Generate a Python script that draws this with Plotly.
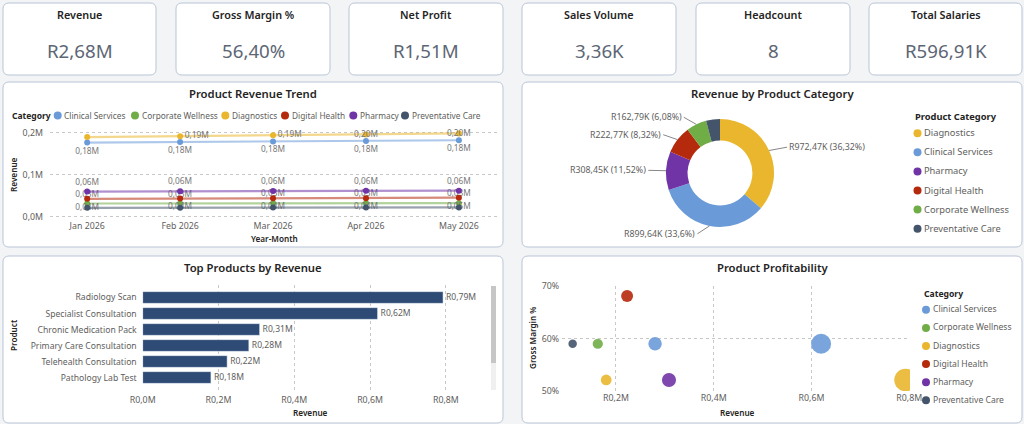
import math
import plotly.graph_objects as go

W, H = 1024, 424
FONT = "Segoe UI, Noto Sans, sans-serif"
TXT = "#252423"
GRAY = "#605e5c"

# ---------------- data ----------------
kpi_titles = ["Revenue", "Gross Margin %", "Net Profit", "Sales Volume", "Headcount", "Total Salaries"]
kpi_values = ["R2,68M", "56,40%", "R1,51M", "3,36K", "8", "R596,91K"]

months = ["Jan 2026", "Feb 2026", "Mar 2026", "Apr 2026", "May 2026"]
categories = ["Clinical Services", "Corporate Wellness", "Diagnostics",
              "Digital Health", "Pharmacy", "Preventative Care"]
rev_clinical = [177200, 178600, 179900, 181200, 182740]
rev_corporate = [32100, 32400, 32600, 32700, 32990]
rev_diagnostics = [190300, 192200, 194600, 196500, 198870]
rev_digital = [43200, 44100, 44600, 44900, 45970]
rev_pharmacy = [60500, 61200, 61800, 62200, 62750]
rev_preventative = [21800, 22100, 22300, 22500, 22680]

products = ["Radiology Scan", "Specialist Consultation", "Chronic Medication Pack",
            "Primary Care Consultation", "Telehealth Consultation", "Pathology Lab Test"]
product_revenue = [792470, 619640, 308450, 280000, 222770, 180000]

scatter_category = ["Diagnostics", "Clinical Services", "Pharmacy", "Clinical Services",
                    "Digital Health", "Diagnostics", "Corporate Wellness", "Preventative Care"]
scatter_revenue = [792470, 619640, 308450, 280000, 222770, 180000, 162790, 111380]
scatter_margin = [52.1, 59.0, 52.1, 59.0, 68.1, 52.1, 59.0, 59.0]

colors = {
    "Clinical Services": "#6a9bd8",
    "Corporate Wellness": "#71ad47",
    "Diagnostics": "#e9b62d",
    "Digital Health": "#b52a0c",
    "Pharmacy": "#7034a6",
    "Preventative Care": "#44546a",
}
BAR_COLOR = "#2e4b75"

series = {
    "Clinical Services": rev_clinical,
    "Corporate Wellness": rev_corporate,
    "Diagnostics": rev_diagnostics,
    "Digital Health": rev_digital,
    "Pharmacy": rev_pharmacy,
    "Preventative Care": rev_preventative,
}


# ---------------- helpers ----------------
def X(v):
    return v / W


def Y(v):
    return 1 - v / H


def rrect(x0, y0, x1, y1, r=6):
    p = (f"M {X(x0 + r)},{Y(y0)} L {X(x1 - r)},{Y(y0)} Q {X(x1)},{Y(y0)} {X(x1)},{Y(y0 + r)} "
         f"L {X(x1)},{Y(y1 - r)} Q {X(x1)},{Y(y1)} {X(x1 - r)},{Y(y1)} "
         f"L {X(x0 + r)},{Y(y1)} Q {X(x0)},{Y(y1)} {X(x0)},{Y(y1 - r)} "
         f"L {X(x0)},{Y(y0 + r)} Q {X(x0)},{Y(y0)} {X(x0 + r)},{Y(y0)} Z")
    return dict(type="path", xref="paper", yref="paper", path=p, fillcolor="white",
                line=dict(color="#b9c5d7", width=1), layer="below")


def fmt_m(v, prefix=""):
    return f"{prefix}{v / 1e6:.2f}M".replace(".", ",")


def hex_rgba(h, a):
    h = h.lstrip("#")
    return f"rgba({int(h[0:2], 16)},{int(h[2:4], 16)},{int(h[4:6], 16)},{a})"


def dot_shape(cx, cy, c, d=8):
    return dict(type="circle", xref="paper", yref="paper", xsizemode="pixel", ysizemode="pixel",
                xanchor=X(cx), yanchor=Y(cy), x0=-d / 2, x1=d / 2, y0=-d / 2, y1=d / 2,
                fillcolor=c, line=dict(width=0), layer="above")


def note(x, y, text, size, color, xanchor="center", weight=None, angle=0):
    f = dict(family=FONT, size=size, color=color)
    if weight:
        f["weight"] = weight
    return dict(x=X(x), y=Y(y), xref="paper", yref="paper", text=text, showarrow=False,
                xanchor=xanchor, yanchor="middle", font=f, textangle=angle)


fig = go.Figure()
shapes = []
annotations = []

# ---------------- cards ----------------
card_boxes = [(3, 3, 156, 75), (176, 3, 330, 75), (349, 3, 503, 75),
              (522, 3, 676, 75), (696, 3, 850, 75), (869, 3, 1022, 75)]
for (x0, y0, x1, y1), t, v in zip(card_boxes, kpi_titles, kpi_values):
    shapes.append(rrect(x0, y0, x1, y1))
    annotations.append(note((x0 + x1) / 2, 15, t, 10.8, TXT, weight=600))
    annotations.append(note((x0 + x1) / 2, 50, v, 18.7, "#5d6675"))

panels = [(3, 82, 503, 247, "Product Revenue Trend"),
          (522, 82, 1022, 247, "Revenue by Product Category"),
          (3, 256, 503, 423, "Top Products by Revenue"),
          (522, 256, 1022, 423, "Product Profitability")]
for x0, y0, x1, y1, t in panels:
    shapes.append(rrect(x0, y0, x1, y1))
    annotations.append(note((x0 + x1) / 2, y0 + 11.5, t, 11.3, TXT, weight=600))

TITLE_SIZE = 8.2
# ---------------- line chart ----------------
label_pos = {
    "Clinical Services": "bottom center",
    "Corporate Wellness": "top center",
    "Diagnostics": ["middle right", "middle right", "middle right", "middle center", "middle center"],
    "Digital Health": "bottom center",
    "Pharmacy": "top center",
    "Preventative Care": None,
}
for cat in categories:
    vals = [v / 1e6 for v in series[cat]]
    txt = [fmt_m(v) for v in series[cat]]
    if cat == "Diagnostics":
        txt[0] = ""
    if label_pos[cat] is None:
        txt = None
    fig.add_trace(go.Scatter(
        x=months, y=vals, mode="lines+markers+text" if txt else "lines+markers",
        text=txt, textposition=label_pos[cat] if txt else None,
        textfont=dict(family=FONT, size=8.3, color="#777"),
        line=dict(color=hex_rgba(colors[cat], 0.55), width=2.2),
        marker=dict(color=colors[cat], size=6),
        cliponaxis=False, name=cat, xaxis="x", yaxis="y"))

annotations.append(note(10, 115, "<b>Category</b>", 8.5, TXT, xanchor="left"))
legend1_x = [57.7, 135, 225.3, 285, 353.3, 405]
for lx, c in zip(legend1_x, categories):
    shapes.append(dot_shape(lx, 115.5, colors[c]))
    annotations.append(note(lx + 4.5, 115, c, 8.3, GRAY, xanchor="left"))
annotations.append(note(13, 175, "Revenue", TITLE_SIZE, TXT, weight=600, angle=-90))
annotations.append(note(274, 238, "Year-Month", TITLE_SIZE, TXT, weight=600))

# ---------------- donut ----------------
donut_order = sorted(categories, key=lambda c: -sum(series[c]))
donut_vals = [sum(series[c]) for c in donut_order]
total = sum(donut_vals)
cx, cy, R = 720, 173, 54
fig.add_trace(go.Pie(
    labels=donut_order, values=donut_vals, hole=0.6, sort=False, direction="clockwise",
    marker=dict(colors=[colors[c] for c in donut_order], line=dict(width=0)),
    textinfo="none",
    domain=dict(x=[X(cx - R), X(cx + R)], y=[Y(cy + R), Y(cy - R)])))
cum = 0
for c, v in zip(donut_order, donut_vals):
    frac = v / total
    mid = (cum + frac / 2) * 2 * math.pi
    cum += frac
    if frac < 0.05:
        continue
    ex = cx + R * math.sin(mid)
    ey = cy - R * math.cos(mid)
    right = math.sin(mid) > 0
    pct = f"{frac * 100:.2f}".rstrip("0").rstrip(".").replace(".", ",")
    label = f"R{v / 1e3:.2f}K".replace(".", ",") + f" ({pct}%)"
    ax = 18 if right else -(18 - 6 * abs(math.cos(mid)))
    annotations.append(dict(
        x=X(ex), y=Y(ey), xref="paper", yref="paper", text=label, showarrow=True,
        arrowhead=0, arrowwidth=1, arrowcolor="#888", ax=ax,
        ay=-8 * math.cos(mid), xanchor="left" if right else "right", yanchor="middle",
        font=dict(family=FONT, size=8.8, color=GRAY)))

annotations.append(note(913, 117, "<b>Product Category</b>", 9.3, TXT, xanchor="left"))
for i, c in enumerate(donut_order):
    yy = 132.7 + 19.1 * i
    shapes.append(dot_shape(917.5, yy + 0.5, colors[c]))
    annotations.append(note(922, yy, c, 9.3, GRAY, xanchor="left"))

# ---------------- bar chart ----------------
fig.add_trace(go.Bar(
    x=[v / 1e6 for v in product_revenue], y=products, orientation="h",
    marker=dict(color=BAR_COLOR), text=[fmt_m(v, "R") for v in product_revenue],
    textposition="outside", textfont=dict(family=FONT, size=8.8, color=GRAY),
    cliponaxis=False, xaxis="x2", yaxis="y2"))
# scrollbar decoration
shapes.append(dict(type="rect", xref="paper", yref="paper", x0=X(491), x1=X(496), y0=Y(390), y1=Y(286),
                   fillcolor="#f0f0f0", line=dict(width=0)))
shapes.append(dict(type="rect", xref="paper", yref="paper", x0=X(491), x1=X(496), y0=Y(363), y1=Y(286),
                   fillcolor="#c6c6c6", line=dict(width=0)))
annotations.append(note(13, 335, "Product", TITLE_SIZE, TXT, weight=600, angle=-90))
annotations.append(note(310, 412, "Revenue", TITLE_SIZE, TXT, weight=600))

# ---------------- scatter ----------------
for cat in categories:
    idx = [i for i, c in enumerate(scatter_category) if c == cat]
    fig.add_trace(go.Scatter(
        x=[scatter_revenue[i] / 1e6 for i in idx], y=[scatter_margin[i] for i in idx],
        mode="markers", name=cat,
        marker=dict(color=colors[cat], size=[scatter_revenue[i] / 1e6 for i in idx],
                    sizemode="area", sizeref=0.0031, opacity=0.9, line=dict(width=0)),
        xaxis="x3", yaxis="y3"))

annotations.append(note(922, 294, "<b>Category</b>", 8.6, TXT, xanchor="left"))
for i, c in enumerate(categories):
    yy = 309.3 + 18.1 * i
    shapes.append(dot_shape(926, yy + 0.5, colors[c]))
    annotations.append(note(930.5, yy, c, 8.6, GRAY, xanchor="left"))
annotations.append(note(532, 338, "Gross Margin %", TITLE_SIZE, TXT, weight=600, angle=-90))
annotations.append(note(737, 412, "Revenue", TITLE_SIZE, TXT, weight=600))

tickfont = dict(family=FONT, size=8.8, color=GRAY)
grid = dict(showgrid=True, gridcolor="#c8c8c8", griddash="dot", gridwidth=1)
common = dict(automargin=False, zeroline=False, ticks="")

fig.update_layout(
    width=W, height=H, margin=dict(l=0, r=0, t=0, b=0, autoexpand=False),
    paper_bgcolor="#f3f4f6", plot_bgcolor="rgba(0,0,0,0)", showlegend=False,
    separators=",.", font=dict(family=FONT, color=GRAY),
    shapes=shapes, annotations=annotations,
    xaxis=dict(domain=[X(50), X(497)], anchor="y", type="category", range=[-0.4, 4.41],
               tickfont=tickfont, showgrid=False, **common),
    yaxis=dict(domain=[Y(219), Y(130)], anchor="x", range=[-0.0048, 0.2071], dtick=0.1, tickformat=".1f",
               ticksuffix="M", tickfont=tickfont, ticklabelstandoff=6, **grid, **common),
    xaxis2=dict(domain=[X(142.7), X(480)], anchor="y2", range=[0, 0.89], dtick=0.2, tickformat=".1f",
                tickprefix="R", ticksuffix="M", tickfont=tickfont, ticklabelstandoff=3, **grid, **common),
    yaxis2=dict(domain=[Y(390), Y(285)], anchor="x2", type="category", categoryorder="array",
                categoryarray=products, range=[5.78, -0.78], tickfont=dict(family=FONT, size=8.6, color=GRAY),
                showgrid=False, ticklabelstandoff=5, **common),
    bargap=0.27,
    xaxis3=dict(domain=[X(562), X(910)], anchor="y3", range=[0.0896, 0.8015], dtick=0.2, tick0=0,
                tickformat=".1f", tickprefix="R", ticksuffix="M", tickfont=tickfont, **grid, **common),
    yaxis3=dict(domain=[Y(391), Y(286)], anchor="x3", range=[50, 70], dtick=10, ticksuffix="%",
                tickfont=tickfont, ticklabelstandoff=2, **grid, **common),
)

fig.write_html("out.html")
